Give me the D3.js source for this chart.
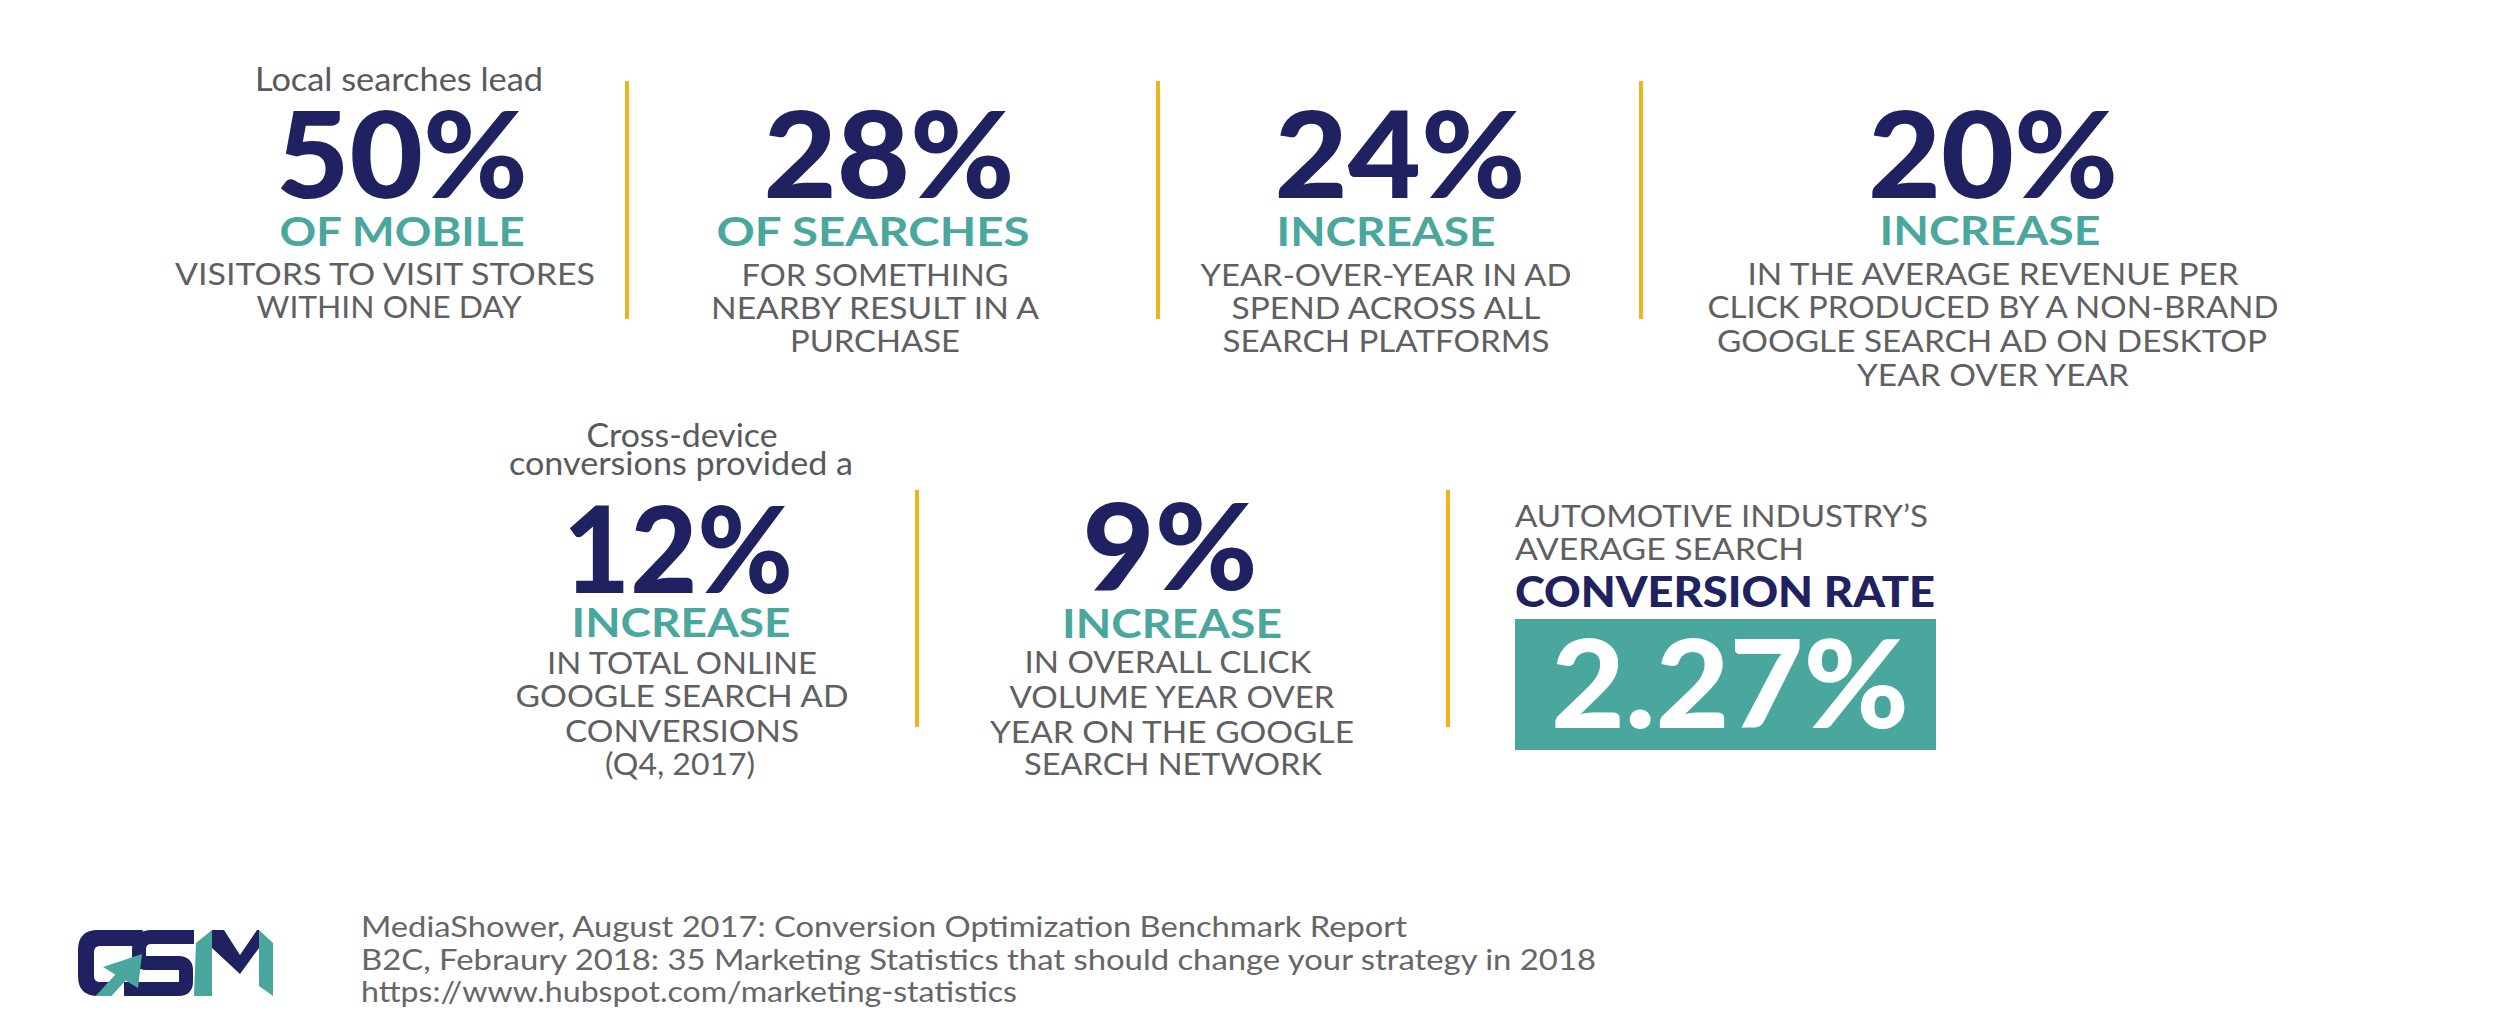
<!DOCTYPE html>
<html>
<head>
<meta charset="utf-8">
<script src="https://cdn.jsdelivr.net/npm/d3@7"></script>
<style>
  html, body { margin: 0; padding: 0; background: #ffffff; }
  svg { display: block; }
</style>
</head>
<body>
<div id="chart"></div>
<script>
// ---------------- DATA ----------------
const statValues = [50, 28, 24, 20, 12, 9];
const statHeads = ["OF MOBILE", "OF SEARCHES", "INCREASE", "INCREASE", "INCREASE", "INCREASE"];
const statIntros = [
  ["Local searches lead"],
  [],
  [],
  [],
  ["Cross-device", "conversions provided a"],
  []
];
const statBodies = [
  ["VISITORS TO VISIT STORES", "WITHIN ONE DAY"],
  ["FOR SOMETHING", "NEARBY RESULT IN A", "PURCHASE"],
  ["YEAR-OVER-YEAR IN AD", "SPEND ACROSS ALL", "SEARCH PLATFORMS"],
  ["IN THE AVERAGE REVENUE PER", "CLICK PRODUCED BY A NON-BRAND", "GOOGLE SEARCH AD ON DESKTOP", "YEAR OVER YEAR"],
  ["IN TOTAL ONLINE", "GOOGLE SEARCH AD", "CONVERSIONS", "(Q4, 2017)"],
  ["IN OVERALL CLICK", "VOLUME YEAR OVER", "YEAR ON THE GOOGLE", "SEARCH NETWORK"]
];
const rateIntroLines = ["AUTOMOTIVE INDUSTRY\u2019S", "AVERAGE SEARCH"];
const rateHead = "CONVERSION RATE";
const rateValue = 2.27;
const sourceLines = [
  "MediaShower, August 2017: Conversion Optimization Benchmark Report",
  "B2C, Febraury 2018: 35 Marketing Statistics that should change your strategy in 2018",
  "https://www.hubspot.com/marketing-statistics"
];

// ---------------- LAYOUT (positions / sizes) ----------------
const W = 2500, H = 1034;
const C = { navy: "#1f2160", teal: "#49a79d", gray: "#5f6062", intro: "#58595b", yellow: "#f1b31c" };
const FONT_NUM = "Lato, 'Noto Sans', sans-serif";
const FONT_TXT = "Lato, 'Noto Sans', sans-serif";

const panelLayout = [
  { intro: [{cx:399, w:288, y:91}], num:{cx:402, w:252, y:198}, head:{cx:402, w:245, y:246},
    body:[{cx:385,w:420,y:285},{cx:389,w:265,y:318}] },
  { intro: [], num:{cx:889, w:251, y:198}, head:{cx:873, w:313, y:246},
    body:[{cx:875,w:267,y:286},{cx:875,w:328,y:319},{cx:875,w:170,y:352}] },
  { intro: [], num:{cx:1400, w:251, y:198}, head:{cx:1386, w:219, y:246},
    body:[{cx:1386,w:371,y:286},{cx:1386,w:309,y:319},{cx:1386,w:327,y:352}] },
  { intro: [], num:{cx:1993, w:250, y:198}, head:{cx:1990, w:221, y:245},
    body:[{cx:1993,w:491,y:285},{cx:1993,w:571,y:318},{cx:1992,w:550,y:352},{cx:1993,w:272,y:386}] },
  { intro: [{cx:682, w:191, y:447},{cx:681, w:344, y:475}], num:{cx:678, w:230, y:593}, head:{cx:681, w:219, y:637},
    body:[{cx:682,w:270,y:674},{cx:682,w:333,y:707},{cx:682,w:234,y:742},{cx:680,w:150,y:775}] },
  { intro: [], num:{cx:1170, w:175, y:590}, head:{cx:1172, w:220, y:638},
    body:[{cx:1168,w:287,y:673},{cx:1172,w:325,y:708},{cx:1172,w:364,y:743},{cx:1173,w:298,y:775}] }
];
const dividers = [
  {x:627, y1:81, y2:319}, {x:1158, y1:81, y2:319}, {x:1641, y1:81, y2:319},
  {x:917, y1:490, y2:727}, {x:1448, y1:490, y2:727}
];
const rateLayout = { x:1515, intro:[{w:413,y:527},{w:289,y:560}], head:{w:420,y:607},
  box:{x:1515, y:619, w:421, h:131}, val:{cx:1730, w:358, y:728} };
const sourceLayout = { x:361, lines:[{w:1046,y:937},{w:1235,y:970},{w:656,y:1002}] };

// ---------------- DRAW ----------------
const svg = d3.select("#chart").append("svg")
  .attr("width", W).attr("height", H).attr("viewBox", `0 0 ${W} ${H}`);
svg.append("rect").attr("width", W).attr("height", H).attr("fill", "#ffffff");

const pct = d => d3.format("d")(d) + "%";

function fitText(sel, w) {
  sel.attr("textLength", w).attr("lengthAdjust", "spacingAndGlyphs");
}

// dividers
svg.append("g").selectAll("line").data(dividers).join("line")
  .attr("x1", d => d.x).attr("x2", d => d.x)
  .attr("y1", d => d.y1).attr("y2", d => d.y2)
  .attr("stroke", C.yellow).attr("stroke-width", 4);

// panels
const panels = svg.append("g").selectAll("g.panel")
  .data(statValues.map((v, i) => ({ v, head: statHeads[i], intro: statIntros[i], body: statBodies[i], L: panelLayout[i] })))
  .join("g").attr("class", "panel");

panels.each(function(d) {
  const g = d3.select(this);
  // intro lines
  g.selectAll("text.intro").data(d.intro.map((t, j) => ({ t, L: d.L.intro[j] }))).join("text")
    .attr("class", "intro")
    .attr("x", e => e.L.cx).attr("y", e => e.L.y)
    .attr("text-anchor", "middle")
    .attr("font-family", FONT_TXT).attr("font-weight", 400).attr("font-size", 33)
    .attr("fill", C.intro)
    .text(e => e.t)
    .each(function(e) { fitText(d3.select(this), e.L.w); });
  // big number
  g.append("text")
    .attr("x", d.L.num.cx).attr("y", d.L.num.y)
    .attr("text-anchor", "middle")
    .attr("font-family", FONT_NUM).attr("font-weight", 900).attr("font-size", 120)
    .attr("fill", C.navy)
    .text(pct(d.v))
    .call(fitText, d.L.num.w);
  // teal head
  g.append("text")
    .attr("x", d.L.head.cx).attr("y", d.L.head.y)
    .attr("text-anchor", "middle")
    .attr("font-family", FONT_TXT).attr("font-weight", 700).attr("font-size", 41)
    .attr("fill", C.teal)
    .text(d.head)
    .call(fitText, d.L.head.w);
  // body lines
  g.selectAll("text.body").data(d.body.map((t, j) => ({ t, L: d.L.body[j] }))).join("text")
    .attr("class", "body")
    .attr("x", e => e.L.cx).attr("y", e => e.L.y)
    .attr("text-anchor", "middle")
    .attr("font-family", FONT_TXT).attr("font-weight", 400).attr("font-size", 31)
    .attr("fill", C.gray)
    .text(e => e.t)
    .each(function(e) { fitText(d3.select(this), e.L.w); });
});

// conversion rate block
const rg = svg.append("g");
rg.selectAll("text.ri").data(rateIntroLines.map((t, j) => ({ t, L: rateLayout.intro[j] }))).join("text")
  .attr("class", "ri")
  .attr("x", rateLayout.x).attr("y", e => e.L.y)
  .attr("font-family", FONT_TXT).attr("font-weight", 400).attr("font-size", 31)
  .attr("fill", C.gray)
  .text(e => e.t)
  .each(function(e) { fitText(d3.select(this), e.L.w); });
rg.append("text")
  .attr("x", rateLayout.x).attr("y", rateLayout.head.y)
  .attr("font-family", FONT_NUM).attr("font-weight", 900).attr("font-size", 42)
  .attr("fill", C.navy)
  .text(rateHead)
  .call(fitText, rateLayout.head.w);
rg.append("rect")
  .attr("x", rateLayout.box.x).attr("y", rateLayout.box.y)
  .attr("width", rateLayout.box.w).attr("height", rateLayout.box.h)
  .attr("fill", C.teal);
rg.append("text")
  .attr("x", rateLayout.val.cx).attr("y", rateLayout.val.y)
  .attr("text-anchor", "middle")
  .attr("font-family", FONT_NUM).attr("font-weight", 900).attr("font-size", 122)
  .attr("fill", "#ffffff")
  .text(d3.format(".2f")(rateValue) + "%")
  .call(fitText, rateLayout.val.w);

// sources
svg.append("g").selectAll("text").data(sourceLines.map((t, j) => ({ t, L: sourceLayout.lines[j] }))).join("text")
  .attr("x", sourceLayout.x).attr("y", e => e.L.y)
  .attr("font-family", FONT_TXT).attr("font-weight", 400).attr("font-size", 28)
  .attr("fill", "#666666")
  .text(e => e.t)
  .each(function(e) { fitText(d3.select(this), e.L.w); });

// logo
const logo = svg.append("g").attr("transform", "translate(60,910)");
logo.append("path")
  .attr("d", "M134,27 L92,27 Q79,27 79,40 L79,46 Q79,53 86,53 L119,53 Q126,53 126,60 L126,72 Q126,79 119,79 L64,79")
  .attr("fill", "none").attr("stroke", C.navy).attr("stroke-width", 14).attr("stroke-linejoin", "miter");
logo.append("path")
  .attr("d", "M83,20 L38,20 Q18,20 18,40 L18,66 Q18,86 38,86 L46,86 L58,72 L40,72 Q34,72 34,66 L34,42 Q34,36 40,36 L78,36 Z")
  .attr("fill", C.navy);
logo.append("polygon")
  .attr("points", "82,44 43,57 55.4,64.4 35.6,86 51.5,86 65.6,70.6 78,78")
  .attr("fill", C.teal);
logo.append("polygon")
  .attr("points", "136,33 152,20 152,86 134,86")
  .attr("fill", C.teal);
logo.append("polygon")
  .attr("points", "152,20 164,20 180,45 197,20 199,20 199,38 180,64 152,38")
  .attr("fill", C.navy);
logo.append("polygon")
  .attr("points", "199,20 213,33 213,86 199,76")
  .attr("fill", C.teal);
</script>
</body>
</html>
